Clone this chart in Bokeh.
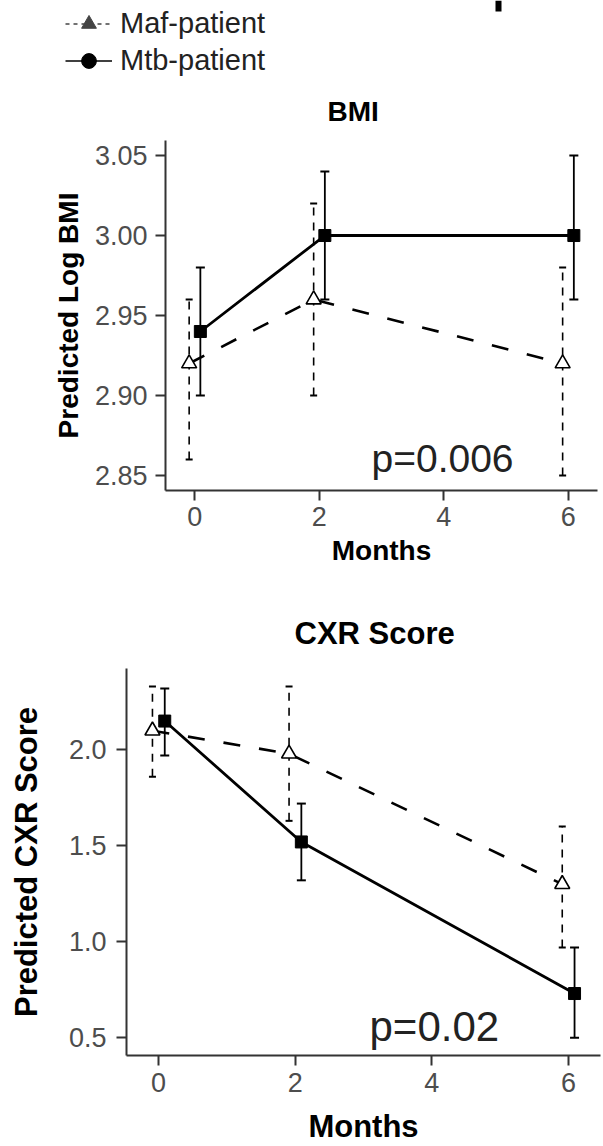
from bokeh.plotting import figure
from bokeh.models import (ColumnDataSource, Whisker, TeeHead, FixedTicker, BoxAnnotation,
                          NumeralTickFormatter, Range1d, Legend, LegendItem, Label)
from bokeh.layouts import column
from bokeh.embed import file_html
from bokeh.resources import INLINE

# ---------------- data ----------------
months = [0, 2, 6]
x_ticks = [0, 2, 4, 6]

bmi_ticks = [2.85, 2.90, 2.95, 3.00, 3.05]
bmi_maf = [2.92, 2.96, 2.92]
bmi_maf_lo = [2.86, 2.90, 2.85]
bmi_maf_hi = [2.96, 3.02, 2.98]
bmi_mtb = [2.94, 3.00, 3.00]
bmi_mtb_lo = [2.90, 2.96, 2.96]
bmi_mtb_hi = [2.98, 3.04, 3.05]

cxr_ticks = [0.5, 1.0, 1.5, 2.0]
cxr_maf = [2.10, 1.98, 1.30]
cxr_maf_lo = [1.86, 1.63, 0.97]
cxr_maf_hi = [2.33, 2.33, 1.60]
cxr_mtb = [2.15, 1.52, 0.73]
cxr_mtb_lo = [1.97, 1.32, 0.50]
cxr_mtb_hi = [2.32, 1.72, 0.97]

series_names = ["Maf-patient", "Mtb-patient"]
p_values = ["p=0.006", "p=0.02"]

FONT = "Liberation Sans"
DODGE = 0.09
AX = "#333333"


def build(title, ylabel, yticks, yfmt, yrange, maf, maf_lo, maf_hi, mtb, mtb_lo, mtb_hi,
          ptext, g):
    p = figure(width=603, height=g["h"], x_range=Range1d(-0.47, 6.47),
               y_range=Range1d(*yrange), output_backend="svg", toolbar_location=None,
               min_border_left=g["bl"], min_border_right=g["br"],
               min_border_top=g["bt"], min_border_bottom=g["bb"],
               title=title, frame_align=False)
    p.background_fill_color = "white"
    p.border_fill_color = "white"
    p.outline_line_color = None
    p.xgrid.visible = False
    p.ygrid.visible = False

    p.title.text_font = FONT
    p.title.text_font_size = g["tfs"]
    p.title.text_font_style = "bold"
    p.title.text_color = "black"
    p.title.align = "left"
    p.title.offset = g["toff"]
    p.title.standoff = g["tstand"]

    p.xaxis.ticker = FixedTicker(ticks=x_ticks)
    p.yaxis.ticker = FixedTicker(ticks=yticks)
    p.yaxis.formatter = NumeralTickFormatter(format=yfmt)
    p.xaxis.axis_label = "Months"
    p.yaxis.axis_label = ylabel
    for ax in (p.xaxis[0], p.yaxis[0]):
        ax.axis_line_width = 2
        ax.axis_line_color = AX
        ax.major_tick_line_width = 2
        ax.major_tick_line_color = AX
        ax.major_tick_out = 10
        ax.major_tick_in = 0
        ax.minor_tick_line_color = None
        ax.major_label_text_font = FONT
        ax.major_label_text_font_size = g["lfs"]
        ax.major_label_text_color = "#4d4d4d"
        ax.axis_label_text_font = FONT
        ax.axis_label_text_font_size = g["afs"]
        ax.axis_label_text_font_style = "bold"
        ax.axis_label_text_color = "black"
    p.xaxis.major_label_standoff = g["xls"]
    p.yaxis.major_label_standoff = g["yls"]
    p.xaxis.axis_label_standoff = g["xas"]
    p.yaxis.axis_label_standoff = g["yas"]

    src_maf = ColumnDataSource(dict(x=[m - DODGE for m in months], y=maf, lo=maf_lo, hi=maf_hi))
    src_mtb = ColumnDataSource(dict(x=[m + DODGE for m in months], y=mtb, lo=mtb_lo, hi=mtb_hi))

    p.add_layout(Whisker(source=src_maf, base="x", lower="lo", upper="hi",
                         line_color="black", line_width=1.6, line_dash="8 7",
                         upper_head=TeeHead(size=7, line_width=2, line_color="black"),
                         lower_head=TeeHead(size=7, line_width=2, line_color="black")))
    p.line("x", "y", source=src_maf, line_color="black", line_width=2.6, line_dash="17 19")
    p.scatter("x", "y", source=src_maf, marker="triangle", size=15,
              fill_color="white", line_color="black", line_width=1.6)

    p.add_layout(Whisker(source=src_mtb, base="x", lower="lo", upper="hi",
                         line_color="black", line_width=1.8,
                         upper_head=TeeHead(size=9, line_width=2, line_color="black"),
                         lower_head=TeeHead(size=9, line_width=2, line_color="black")))
    p.line("x", "y", source=src_mtb, line_color="black", line_width=2.8)
    p.scatter("x", "y", source=src_mtb, marker="square", size=12,
              fill_color="black", line_color="black")

    p.add_layout(Label(x=g["px"], y=g["py"], x_units="screen", y_units="screen",
                       text=ptext, text_font=FONT, text_font_size=g["pfs"],
                       text_color="#222222", text_baseline="alphabetic"))
    return p


# ---------- header with legend ----------
p0 = figure(width=603, height=80, x_range=Range1d(0, 1), y_range=Range1d(0, 1),
            output_backend="svg", toolbar_location=None, min_border=0,
            x_axis_location=None, y_axis_location=None, frame_align=False)
p0.outline_line_color = None
p0.xgrid.visible = False
p0.ygrid.visible = False
# legend-key renderers: real series data, lying outside this header's ranges
k1l = p0.line(months, bmi_maf, line_color="#444444", line_width=1.3, line_dash="4 4")
k1s = p0.scatter(months, bmi_maf, marker="triangle", size=8, fill_color="#444444",
                 line_color="#444444")
k2l = p0.line(months, bmi_mtb, line_color="black", line_width=1.5)
k2s = p0.scatter(months, bmi_mtb, marker="circle", size=6, fill_color="black",
                 line_color="black")
legend = Legend(items=[LegendItem(label=series_names[0], renderers=[k1l, k1s]),
                       LegendItem(label=series_names[1], renderers=[k2l, k2s])],
                location=(65, 1), orientation="vertical",
                glyph_width=47, glyph_height=37, label_height=37, label_standoff=8,
                spacing=0, padding=0, margin=0, border_line_color=None,
                background_fill_alpha=0, label_text_font=FONT,
                label_text_font_size="29px", label_text_color="#222222")
p0.add_layout(legend)
# small dark fragment at the top edge of the reference image
p0.add_layout(BoxAnnotation(left=495, right=501, top=80, bottom=69,
                            left_units="screen", right_units="screen",
                            top_units="screen", bottom_units="screen",
                            fill_color="black", fill_alpha=1, line_color=None))

p1 = build("BMI", "Predicted Log BMI", bmi_ticks, "0.00", (2.8406, 3.0594),
           bmi_maf, bmi_maf_lo, bmi_maf_hi, bmi_mtb, bmi_mtb_lo, bmi_mtb_hi, p_values[0],
           dict(h=500, bl=165, br=6, bt=60, bb=90, tfs="28px", toff=162, tstand=27,
                lfs="27px", afs="28px", xls=6, yls=8, xas=6, yas=8,
                px=206, py=32, pfs="39px"))

p2 = build("CXR Score", "Predicted CXR Score", cxr_ticks, "0.0", (0.407, 2.424),
           cxr_maf, cxr_maf_lo, cxr_maf_hi, cxr_mtb, cxr_mtb_lo, cxr_mtb_hi, p_values[1],
           dict(h=566, bl=126, br=3, bt=88, bb=88, tfs="31px", toff=168, tstand=36,
                lfs="27px", afs="31px", xls=7, yls=10, xas=14, yas=22,
                px=243, py=29, pfs="42px"))

layout = column(p0, p1, p2, spacing=0)
open("out.html", "w").write(file_html(layout, INLINE))
